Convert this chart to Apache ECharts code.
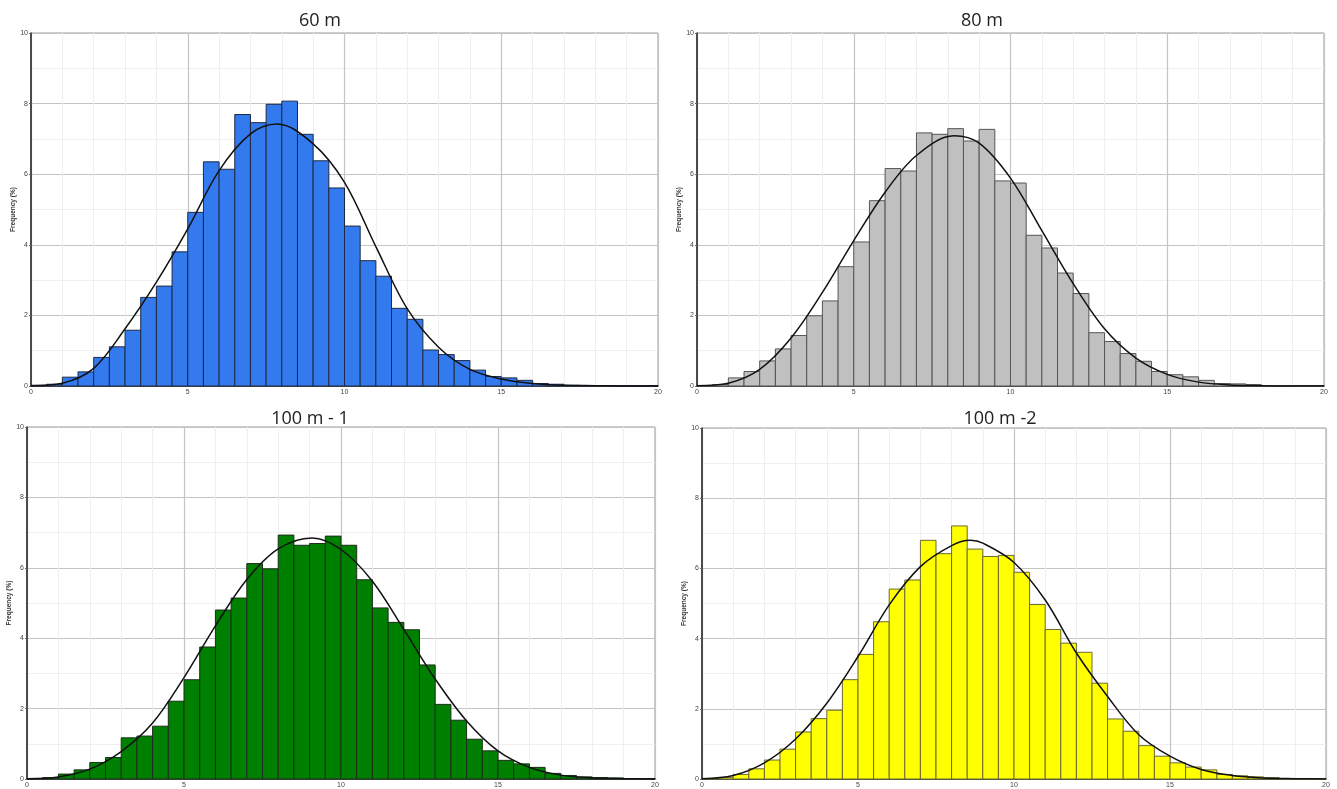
<!DOCTYPE html>
<html>
<head>
<meta charset="utf-8">
<script src="https://cdn.jsdelivr.net/npm/echarts@6/dist/echarts.min.js"></script>
<style>
html,body{margin:0;padding:0;background:#fff;}
#c{width:1337px;height:789px;}
</style>
</head>
<body>
<div id="c"></div>
<script>
// ---- data ----
const titles = ['60 m', '80 m', '100 m - 1', '100 m -2'];
const binWidth = 0.5;
const xTicks = [0, 5, 10, 15, 20];
const yTicks = [0, 2, 4, 6, 8, 10];

// histogram frequencies (%) for bins starting at 0, 0.5, 1, ... 19.5
const freq60 = [0.02,0.05,0.25,0.40,0.81,1.11,1.58,2.51,2.83,3.80,4.92,6.35,6.14,7.69,7.46,7.98,8.07,7.13,6.38,5.61,
                4.53,3.55,3.11,2.20,1.89,1.02,0.89,0.72,0.45,0.27,0.23,0.16,0.07,0.05,0.02,0.01,0.01,0,0,0];
const freq80 = [0.01,0.04,0.23,0.41,0.71,1.05,1.43,1.99,2.41,3.38,4.08,5.25,6.16,6.09,7.17,7.13,7.29,6.94,7.27,5.81,
                5.75,4.27,3.91,3.20,2.62,1.51,1.26,0.92,0.70,0.41,0.32,0.26,0.16,0.07,0.06,0.04,0.01,0.01,0,0];
const freq100a = [0.01,0.04,0.14,0.26,0.47,0.61,1.17,1.22,1.50,2.21,2.82,3.75,4.80,5.14,6.12,5.97,6.93,6.64,6.69,6.90,
                  6.64,5.66,4.86,4.45,4.24,3.24,2.12,1.67,1.13,0.80,0.53,0.43,0.33,0.16,0.10,0.06,0.04,0.03,0.01,0.01];
const freq100b = [0.01,0.04,0.13,0.29,0.54,0.85,1.34,1.72,1.96,2.83,3.55,4.48,5.41,5.67,6.80,6.42,7.21,6.55,6.34,6.37,
                  5.89,4.97,4.26,3.87,3.61,2.73,1.71,1.36,0.95,0.65,0.46,0.34,0.26,0.13,0.09,0.06,0.04,0.01,0.01,0];

// fitted curve readings [x, %]
const curve60 = [[0,0.01],[1,0.08],[2,0.5],[3,1.62],[4,2.94],[5,4.45],[6,6.1],[7,7.14],[7.85,7.42],[9,6.86],[10,5.77],
                 [11,3.95],[12,2.19],[13,1.1],[14,0.47],[15,0.2],[16,0.07],[17,0.02],[18,0.01],[19,0],[20,0]];
const curve80 = [[0,0.01],[1,0.08],[2,0.47],[3,1.36],[4,2.65],[5,4.12],[6,5.49],[7,6.53],[8.2,7.09],[9,6.88],[10,5.89],
                 [11,4.4],[12,2.9],[13,1.62],[14,0.79],[15,0.33],[16,0.11],[17,0.03],[18,0.01],[19,0],[20,0]];
const curve100a = [[0,0.01],[1,0.06],[2,0.28],[3,0.78],[4,1.59],[5,2.88],[6,4.35],[7,5.67],[8,6.54],[9.08,6.85],[10,6.52],
                   [11,5.62],[12,4.25],[13,2.84],[14,1.65],[15,0.8],[16,0.33],[17,0.11],[18,0.03],[19,0.01],[20,0]];
const curve100b = [[0,0.01],[1,0.1],[2,0.46],[3,1.14],[4,2.16],[5,3.49],[6,4.96],[7,6.05],[8,6.65],[8.6,6.8],[9,6.72],[10,6.17],
                   [11,5.1],[12,3.59],[13,2.35],[14,1.26],[15,0.65],[16,0.27],[17,0.1],[18,0.03],[19,0.01],[20,0]];

const freqs = [freq60, freq80, freq100a, freq100b];
const curves = [curve60, curve80, curve100a, curve100b];

// ---- styles / layout ----
const fills = ['#337AEE', '#C0C0C0', '#008000', '#FFFF00'];
const strokes = ['#1e2a44', '#555555', '#1a2e1a', '#6a6a30'];
const grids = [
  {left: 31, top: 33, width: 627, height: 353},
  {left: 697, top: 33, width: 627, height: 353},
  {left: 27, top: 427, width: 628, height: 353},
  {left: 702, top: 428, width: 624, height: 351}
];
const titlePos = [[315, 7], [977, 7], [305, 405], [995, 405]];

const option = {
  animation: false,
  title: [], grid: [], xAxis: [], yAxis: [], series: []
};

titles.forEach((t, i) => {
  option.title.push({
    text: t, left: titlePos[i][0], top: titlePos[i][1], textAlign: 'center',
    textStyle: {fontFamily: 'Open Sans', fontSize: 18, fontWeight: 'normal', color: '#222'}
  });
  option.grid.push(Object.assign({show: true, borderColor: '#9a9a9a', borderWidth: 1, backgroundColor: '#fff'}, grids[i]));
  option.xAxis.push({
    type: 'value', gridIndex: i, min: xTicks[0], max: xTicks[xTicks.length - 1], interval: xTicks[1] - xTicks[0],
    axisLine: {show: true, onZero: false, lineStyle: {color: '#222', width: 1.5}},
    axisTick: {show: false},
    minorTick: {show: true, splitNumber: 5, length: 0},
    axisLabel: {fontSize: 7, color: '#444', margin: 3, fontFamily: 'Liberation Sans'},
    splitLine: {show: true, lineStyle: {color: '#c4c4c4', width: 1.2}},
    minorSplitLine: {show: true, lineStyle: {color: '#efefef', width: 1}}
  });
  option.yAxis.push({
    type: 'value', gridIndex: i, min: yTicks[0], max: yTicks[yTicks.length - 1], interval: yTicks[1] - yTicks[0],
    name: 'Frequency (%)', nameLocation: 'middle', nameGap: 14,
    nameTextStyle: {fontSize: 6.5, fontWeight: 'bold', color: '#333', fontFamily: 'Liberation Sans'},
    axisLine: {show: true, lineStyle: {color: '#222', width: 1.5}},
    axisTick: {show: true, length: 2, lineStyle: {color: '#666'}},
    minorTick: {show: true, splitNumber: 2, length: 0},
    axisLabel: {fontSize: 7, color: '#444', margin: 3, fontFamily: 'Liberation Sans'},
    splitLine: {show: true, lineStyle: {color: '#c4c4c4', width: 1.2}},
    minorSplitLine: {show: true, lineStyle: {color: '#efefef', width: 1}}
  });
  const binData = freqs[i].map((v, k) => [k * binWidth, (k + 1) * binWidth, v]);
  const fill = fills[i], stroke = strokes[i];
  option.series.push({
    type: 'custom', xAxisIndex: i, yAxisIndex: i, data: binData,
    encode: {x: [0, 1], y: 2},
    renderItem: function (params, api) {
      const p0 = api.coord([api.value(0), 0]);
      const p1 = api.coord([api.value(1), api.value(2)]);
      return {
        type: 'rect',
        shape: {x: p0[0], y: p1[1], width: p1[0] - p0[0], height: p0[1] - p1[1]},
        style: {fill: fill, stroke: stroke, lineWidth: 1}
      };
    },
    z: 2
  });
  option.series.push({
    type: 'line', xAxisIndex: i, yAxisIndex: i, data: curves[i], smooth: 0.35,
    showSymbol: false, lineStyle: {color: '#111', width: 1.5}, z: 3
  });
});

const chart = echarts.init(document.getElementById('c'), null, {renderer: 'canvas'});
chart.setOption(option);
</script>
</body>
</html>
